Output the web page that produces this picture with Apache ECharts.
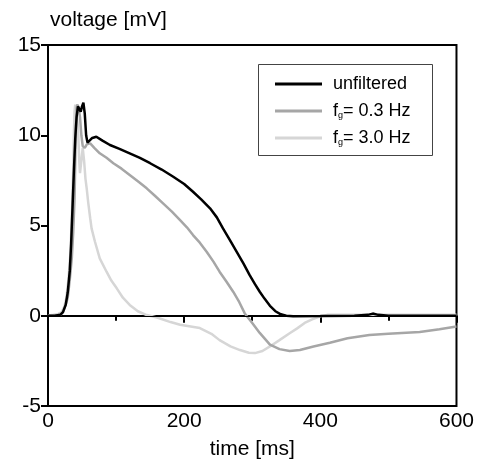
<!DOCTYPE html>
<html>
<head>
<meta charset="utf-8">
<script src="https://cdn.jsdelivr.net/npm/echarts@6/dist/echarts.min.js"></script>
<style>
html, body { margin: 0; padding: 0; background: #fff; }
#main { width: 477px; height: 466px; }
</style>
</head>
<body>
<div id="main"></div>
<script>
// [time ms, voltage mV]
var unfiltered = [[0,0],[10,0],[18,0.05],[22,0.2],[26,0.6],[29,1.3],[32,2.5],[34,4],[36,6],[38,8],[40,9.8],[42,11],[44,11.6],[46,11.5],[48,11.3],[50,11.6],[52,11.8],[54,11.2],[56,10],[58,9.6],[61,9.7],[65,9.85],[71,9.92],[80,9.7],[91,9.46],[105,9.25],[120,9.0],[135,8.75],[150,8.45],[167,8.1],[184,7.7],[200,7.3],[213,6.87],[225,6.45],[238,5.95],[248,5.45],[257,4.84],[267,4.2],[277,3.55],[287,2.9],[296,2.26],[304,1.75],[311,1.33],[318,0.95],[326,0.55],[334,0.25],[342,0.08],[350,0],[360,-0.03],[400,-0.02],[450,0],[470,0.05],[477,0.12],[485,0.05],[500,0],[550,0],[600,0]];

var fg03 = [[0,0],[10,0],[18,0.05],[22,0.2],[26,0.6],[29,1.0],[32,2.0],[35,3.2],[37,4.6],[39,6.5],[40,8.5],[41,10.5],[42,11.5],[43,11.7],[45,11.5],[47,11.0],[49,10.0],[51,9.4],[54,9.3],[57,9.5],[62,9.55],[68,9.3],[76,9.0],[86,8.75],[96,8.45],[108,8.15],[120,7.8],[132,7.45],[145,7.06],[157,6.65],[169,6.23],[182,5.77],[194,5.3],[204,4.9],[213,4.47],[223,4.05],[233,3.55],[243,3.0],[252,2.44],[262,1.9],[272,1.33],[281,0.75],[289,0.13],[300,-0.4],[311,-0.95],[326,-1.6],[340,-1.85],[355,-1.95],[370,-1.9],[390,-1.7],[414,-1.5],[440,-1.25],[472,-1.07],[500,-1.0],[546,-0.9],[575,-0.75],[600,-0.6]];

var fg30 = [[0,0],[8,0.05],[15,0.1],[20,0.2],[24,0.5],[27,1.0],[30,2.0],[33,3.5],[35,5.5],[37,8],[38,10],[39,11.3],[40,11.7],[42,11.6],[44,10.5],[46,8.5],[47,7.9],[49,8.6],[51,9.3],[53,8.6],[55,7.6],[57,7.0],[59,6.3],[62,5.4],[64,4.84],[69,4.1],[76,3.18],[86,2.44],[93,1.95],[101,1.52],[110,1.0],[120,0.6],[132,0.25],[145,0.04],[160,-0.1],[180,-0.35],[194,-0.5],[223,-0.68],[240,-1.0],[252,-1.35],[268,-1.7],[282,-1.9],[295,-2.05],[304,-2.07],[315,-1.95],[326,-1.7],[340,-1.35],[355,-0.97],[366,-0.7],[377,-0.4],[388,-0.2],[399,-0.05],[410,0.05],[450,0.05],[500,0.05],[600,0.05]];

var xTicks = { min: 0, max: 600, step: 200 };
var yTicks = { min: -5, max: 15, step: 5 };

var font = 'Liberation Sans, Arial, sans-serif';

var chart = echarts.init(document.getElementById('main'));

chart.setOption({
	animation: false,
	backgroundColor: '#fff',
	grid: {
		left: 48, right: 20, top: 45, bottom: 60,
		show: true, borderColor: '#000', borderWidth: 2
	},
	graphic: [{
		type: 'rect',
		shape: { x: 258.5, y: 64.5, width: 174, height: 91 },
		style: { fill: '#fff', stroke: '#444', lineWidth: 1 },
		z: 5
	}],
	legend: {
		orient: 'vertical',
		left: 275, top: 75,
		padding: 0,
		itemWidth: 47, itemHeight: 3,
		itemGap: 9,
		icon: 'rect',
		z: 10,
		data: ['unfiltered', 'fg03', 'fg30'],
		formatter: function (name) {
			if (name === 'fg03') return '{a|f}{s|g}{b|= 0.3 Hz}';
			if (name === 'fg30') return '{a|f}{s|g}{b|= 3.0 Hz}';
			return '{a|unfiltered}';
		},
		textStyle: {
			fontFamily: font, fontSize: 18, color: '#000',
			rich: {
				a: { fontFamily: font, fontSize: 18, lineHeight: 18, color: '#000', padding: [0, 0, 0, 6] },
				b: { fontFamily: font, fontSize: 18, lineHeight: 18, color: '#000' },
				s: { fontFamily: font, fontSize: 9, lineHeight: 9, color: '#000', verticalAlign: 'bottom' }
			}
		}
	},
	xAxis: {
		type: 'value',
		min: xTicks.min, max: xTicks.max, interval: xTicks.step,
		name: 'time [ms]',
		nameLocation: 'middle',
		nameGap: 33,
		nameTextStyle: { fontFamily: font, fontSize: 21, color: '#000' },
		axisLine: { lineStyle: { color: '#000', width: 2 } },
		axisTick: { inside: false, length: 7, lineStyle: { color: '#000', width: 2 } },
		minorTick: { show: true, splitNumber: 2, length: 5, lineStyle: { color: '#000', width: 2 } },
		axisLabel: { fontFamily: font, fontSize: 21, color: '#000', margin: 5 },
		splitLine: { show: false }
	},
	yAxis: {
		type: 'value',
		min: yTicks.min, max: yTicks.max, interval: yTicks.step,
		name: 'voltage [mV]',
		nameLocation: 'end',
		nameGap: 14,
		nameTextStyle: { fontFamily: font, fontSize: 21, color: '#000', align: 'left', verticalAlign: 'bottom', padding: [0, 0, 0, 2] },
		axisLine: { lineStyle: { color: '#000', width: 2 } },
		axisTick: { inside: false, length: 7, lineStyle: { color: '#000', width: 2 } },
		axisLabel: { fontFamily: font, fontSize: 21, color: '#000', margin: 7 },
		splitLine: { show: false }
	},
	series: [{
		name: 'unfiltered', type: 'line', data: unfiltered,
		showSymbol: false, symbol: 'none',
		color: '#000',
		lineStyle: { color: '#000', width: 2.5 },
		z: 4,
		markLine: {
			silent: true, symbol: ['none', 'none'],
			label: { show: false },
			lineStyle: { color: '#000', width: 1, type: 'solid' },
			data: [{ yAxis: 0 }]
		}
	}, {
		name: 'fg03', type: 'line', data: fg03,
		showSymbol: false, symbol: 'none',
		color: '#a6a6a6',
		lineStyle: { color: '#a6a6a6', width: 2.5 },
		z: 3
	}, {
		name: 'fg30', type: 'line', data: fg30,
		showSymbol: false, symbol: 'none',
		color: '#d6d6d6',
		lineStyle: { color: '#d6d6d6', width: 2.5 },
		z: 2
	}]
});
</script>
</body>
</html>
